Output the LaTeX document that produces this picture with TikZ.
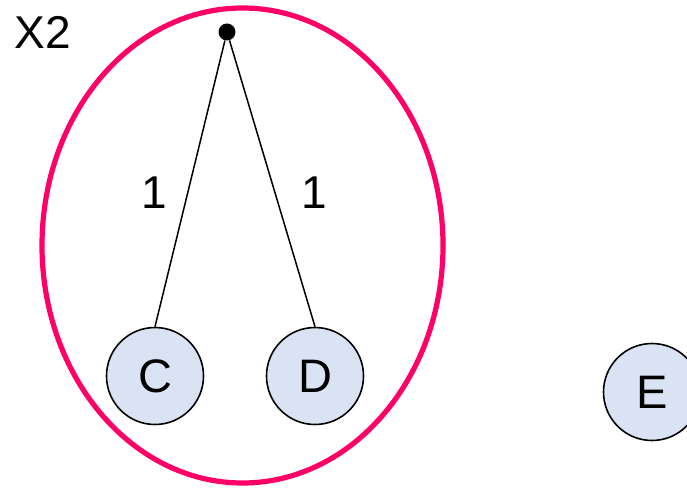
\documentclass[tikz,border=0pt]{standalone}
\usepackage{fontspec}
\setmainfont{Liberation Sans}
\usetikzlibrary{shapes.geometric}
\definecolor{grouppink}{RGB}{255,0,102}
\definecolor{nodefill}{RGB}{218,227,243}
\tikzset{
  vertex/.style={circle, draw=black, line width=1.6pt, fill=nodefill, minimum size=97pt, inner sep=0pt, font=\fontsize{47}{47}\selectfont},
  hub/.style={circle, fill=black, minimum size=17pt, inner sep=0pt},
  group/.style={ellipse, draw=grouppink, line width=5.2pt, minimum width=401pt, minimum height=475pt, inner sep=0pt},
  lbl/.style={font=\fontsize{46}{46}\selectfont, inner sep=0pt},
  edge/.style={draw=black, line width=1.5pt}
}
\begin{document}
\begin{tikzpicture}[x=1pt,y=-1pt]
\useasboundingbox (0,0) rectangle (687,489);
\node[group] (grp) at (242.5,245.5) {};
\node[lbl] (title) at (43,32) {X2};
\node[hub] (top) at (227,32) {};
\node[vertex] (C) at (155,376) {C};
\node[vertex] (D) at (315,376) {D};
\node[vertex] (E) at (652,392) {E};
\draw[edge] (top) -- (C.north);
\draw[edge] (top) -- (D.north);
\node[lbl] (w1) at (154.5,192.5) {1};
\node[lbl] (w2) at (314,192.5) {1};
\end{tikzpicture}
\end{document}
